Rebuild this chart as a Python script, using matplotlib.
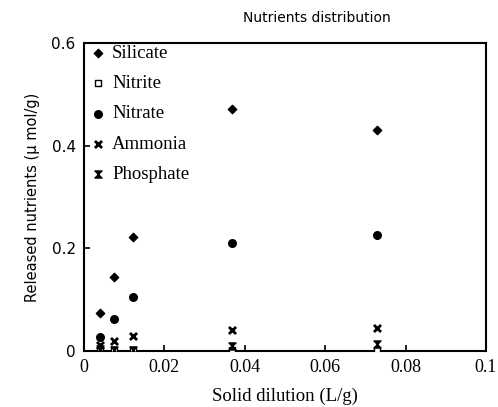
import matplotlib.pyplot as plt
from matplotlib.path import Path

# data
dilution = [0.004, 0.0075, 0.0123, 0.0367, 0.0728]
silicate = [0.074, 0.144, 0.222, 0.472, 0.431]
nitrite = [0.002, 0.002, 0.001, 0.002, 0.002]
nitrate = [0.027, 0.062, 0.105, 0.210, 0.226]
ammonia = [0.012, 0.020, 0.029, 0.041, 0.045]
phosphate = [0.004, 0.002, 0.002, 0.010, 0.014]

x_ticks = [0, 0.02, 0.04, 0.06, 0.08, 0.1]
x_labels = ['0', '0.02', '0.04', '0.06', '0.08', '0.1']
y_ticks = [0, 0.2, 0.4, 0.6]
y_labels = ['0', '0.2', '0.4', '0.6']

serif = 'Liberation Serif'
sans = 'DejaVu Sans'

# hourglass-ish marker for phosphate
hourglass = Path([(-1, 1), (1, 1), (-1, -1), (1, -1), (-1, 1)],
                 [Path.MOVETO, Path.LINETO, Path.LINETO, Path.LINETO, Path.CLOSEPOLY])

fig = plt.figure(figsize=(4.98, 4.07), dpi=100)
ax = fig.add_axes([84/498, 56/407, 402/498, 308/407])

ax.scatter(dilution, silicate, marker='D', s=18, color='black', label='Silicate', zorder=3)
ax.scatter(dilution, nitrite, marker='s', s=20, facecolor='white', edgecolor='black',
           linewidth=1, label='Nitrite', zorder=3)
ax.scatter(dilution, nitrate, marker='o', s=30, color='black', label='Nitrate', zorder=3)
ax.scatter(dilution, ammonia, marker='x', s=26, color='black', linewidth=2,
           label='Ammonia', zorder=3)
ax.scatter(dilution, phosphate, marker=hourglass, s=26, color='black',
           label='Phosphate', zorder=3)

ax.set_xlim(0, 0.1)
ax.set_ylim(0, 0.6)
ax.set_xticks(x_ticks)
ax.set_xticklabels(x_labels, fontfamily=serif, fontsize=13)
ax.set_yticks(y_ticks)
ax.set_yticklabels(y_labels, fontfamily=sans, fontsize=11)
ax.tick_params(direction='in', length=4, width=1.2, pad=6)
for s in ax.spines.values():
    s.set_linewidth(1.5)

ax.set_xlabel('Solid dilution (L/g)', fontfamily=serif, fontsize=13.5, labelpad=8)
ax.set_ylabel('Released nutrients (\u03bc mol/g)', fontfamily=sans, fontsize=10.5, labelpad=8)
fig.text(0.637, 0.955, 'Nutrients distribution', fontfamily=sans, fontsize=10,
         ha='center', va='center')

leg = ax.legend(loc='upper left', bbox_to_anchor=(0, 1), frameon=False,
                prop={'family': serif, 'size': 13.5},
                handletextpad=0.1, labelspacing=0.7, borderaxespad=0, borderpad=0.1,
                handlelength=1.3, scatterpoints=1)

fig.savefig('out.png', dpi=100)
